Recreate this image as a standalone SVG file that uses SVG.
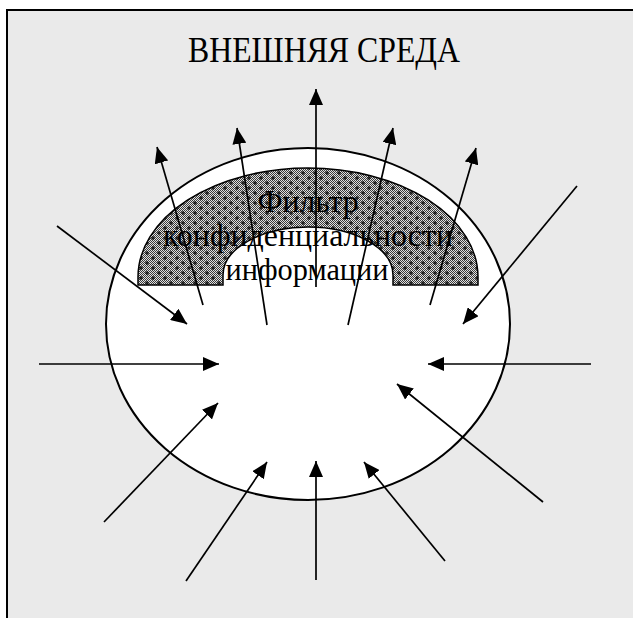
<svg xmlns="http://www.w3.org/2000/svg" width="633" height="618" viewBox="0 0 633 618">
<style>
.ln{stroke:#000;stroke-width:1.7;fill:none;marker-end:url(#ah)}
.txt{font-family:"Liberation Serif","Times New Roman",serif;fill:#000;text-anchor:middle}
</style>
<defs>
<marker id="ah" viewBox="0 0 16 14" refX="16" refY="7" markerWidth="16" markerHeight="14" markerUnits="userSpaceOnUse" orient="auto">
<path d="M0,0 L16,7 L0,14 Z" fill="#000"/>
</marker>
<pattern id="chk" width="2" height="2" patternUnits="userSpaceOnUse">
<rect width="2" height="2" fill="#e0e0e0"/>
<rect width="1" height="1" fill="#3a3a3a"/>
<rect x="1" y="1" width="1" height="1" fill="#3a3a3a"/>
</pattern>
<pattern id="flt" width="12" height="10" patternUnits="userSpaceOnUse">
<rect width="12" height="10" fill="url(#chk)"/>
<path d="M3,1V5M1,3H5M9,6V10M7,8H11" stroke="#000" stroke-width="1"/>
</pattern>
</defs>
<rect width="633" height="618" fill="#fff"/>
<g id="env">
<rect x="7" y="10" width="640" height="620" fill="#eaeaea"/>
<path d="M7,640V10H640" stroke="#000" stroke-width="2" fill="none"/>
<text class="txt" x="324" y="62" font-size="35" textLength="272" lengthAdjust="spacingAndGlyphs">ВНЕШНЯЯ СРЕДА</text>
</g>
<g id="system">
<ellipse cx="308" cy="324" rx="202" ry="176" fill="#fff" stroke="#000" stroke-width="2"/>
</g>
<g id="filter">
<path d="M138,285V277A170,109 0 0 1 478,277V285H393V275A85,48 0 0 0 223,275V285Z" fill="url(#flt)" stroke="#000" stroke-width="1.5"/>
<text class="txt" font-size="32"><tspan x="308" y="212" textLength="101" lengthAdjust="spacingAndGlyphs">Фильтр</tspan><tspan x="308" y="246" textLength="290" lengthAdjust="spacingAndGlyphs">конфиденциальности</tspan><tspan x="307" y="280" textLength="163" lengthAdjust="spacingAndGlyphs">информации</tspan></text>
</g>
<g id="connectors">
<line class="ln" x1="316" y1="287" x2="316" y2="89"/>
<line class="ln" x1="203" y1="305" x2="157" y2="147"/>
<line class="ln" x1="267" y1="325" x2="237" y2="128"/>
<line class="ln" x1="348" y1="325" x2="393" y2="128"/>
<line class="ln" x1="430" y1="305" x2="476" y2="148"/>
<line class="ln" x1="57" y1="226" x2="187" y2="324"/>
<line class="ln" x1="39" y1="364" x2="219" y2="364"/>
<line class="ln" x1="104" y1="522" x2="218" y2="403"/>
<line class="ln" x1="186" y1="581" x2="267" y2="462"/>
<line class="ln" x1="316" y1="580" x2="316" y2="461"/>
<line class="ln" x1="445" y1="561" x2="364" y2="462"/>
<line class="ln" x1="543" y1="502" x2="397" y2="384"/>
<line class="ln" x1="591" y1="364" x2="428" y2="364"/>
<line class="ln" x1="577" y1="186" x2="463" y2="324"/>
</g>
</svg>
